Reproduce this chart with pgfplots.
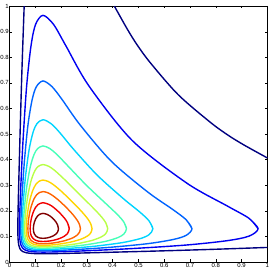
\documentclass[border=0pt]{standalone}
\usepackage{fontspec}
\setmainfont{Liberation Sans}
\usepackage{pgfplots}
\pgfplotsset{compat=1.18}
\definecolor{c1}{rgb}{0.5,0,0}
\definecolor{c2}{rgb}{0.944,0,0}
\definecolor{c3}{rgb}{1,0.389,0}
\definecolor{c4}{rgb}{1,0.833,0}
\definecolor{c5}{rgb}{0.722,1,0.278}
\definecolor{c6}{rgb}{0.278,1,0.722}
\definecolor{c7}{rgb}{0,0.833,1}
\definecolor{c8}{rgb}{0,0.389,1}
\definecolor{c9}{rgb}{0,0,0.944}
\definecolor{c10}{rgb}{0,0,0.5}
\begin{document}
\begin{tikzpicture}
\begin{axis}[
  scale only axis, width=258bp, height=256bp,
  xmin=0, xmax=1.0005, ymin=0, ymax=1.0005,
  xtick={0,0.1,0.2,0.3,0.4,0.5,0.6,0.7,0.8,0.9,1},
  ytick={0,0.1,0.2,0.3,0.4,0.5,0.6,0.7,0.8,0.9,1},
  tick align=inside, major tick length=2.5bp,
  tick style={black, line width=0.4pt},
  axis line style={black, line width=0.5pt},
  every tick label/.append style={font=\fontsize{6}{7}\selectfont, text=black},
  xticklabel style={inner sep=1.5pt},
  yticklabel style={inner sep=0.6pt},
  /pgf/number format/assume math mode=true,
  every axis plot/.append style={line width=1.4pt, smooth, mark=none},
]
\coordinate (sw) at (rel axis cs:0,0);
\coordinate (ne) at (rel axis cs:1,1);
% level 10 (lowest), open pieces
\addplot[c10] coordinates {(0.0569,1)(0.0492,0.78)(0.0433,0.585)(0.038,0.39)(0.0346,0.26)(0.0329,0.182)(0.0323,0.13)(0.0332,0.091)(0.0361,0.065)(0.0405,0.052)(0.0453,0.0453)(0.052,0.0405)(0.065,0.0361)(0.091,0.0332)(0.13,0.0323)(0.182,0.0329)(0.26,0.0346)(0.39,0.038)(0.585,0.0433)(0.78,0.0492)(1,0.0569)};
\addplot[c10] coordinates {(1,0.4067)(0.91,0.4569)(0.85,0.494)(0.78,0.545)(0.654,0.654)(0.545,0.78)(0.494,0.85)(0.4569,0.91)(0.4067,1)};
% level 9
\addplot[c9] coordinates {(0.9640,0.13)(0.9286,0.1708)(0.8454,0.2184)(0.6877,0.3082)(0.4754,0.4754)(0.3082,0.6877)(0.2184,0.8454)(0.1708,0.9286)(0.13,0.9640)(0.1011,0.9286)(0.0835,0.8454)(0.0665,0.6877)(0.0525,0.4754)(0.0444,0.3082)(0.0408,0.2184)(0.0394,0.1708)(0.0388,0.13)(0.0394,0.1011)(0.0408,0.0835)(0.0444,0.0665)(0.0525,0.0525)(0.0665,0.0444)(0.0835,0.0408)(0.1011,0.0394)(0.13,0.0388)(0.1708,0.0394)(0.2184,0.0408)(0.3082,0.0444)(0.4754,0.0525)(0.6877,0.0665)(0.8454,0.0835)(0.9286,0.1011)(0.9640,0.13)(0.9286,0.1708)};
% level 8
\addplot[c8] coordinates {(0.7076,0.13)(0.6851,0.165)(0.6347,0.2041)(0.5357,0.2738)(0.3942,0.3942)(0.2738,0.5357)(0.2041,0.6347)(0.165,0.6851)(0.13,0.7076)(0.1042,0.6851)(0.0879,0.6347)(0.0716,0.5357)(0.0578,0.3942)(0.0496,0.2738)(0.0459,0.2041)(0.0445,0.165)(0.0438,0.13)(0.0445,0.1042)(0.0459,0.0879)(0.0496,0.0716)(0.0578,0.0578)(0.0716,0.0496)(0.0879,0.0459)(0.1042,0.0445)(0.13,0.0438)(0.165,0.0445)(0.2041,0.0459)(0.2738,0.0496)(0.3942,0.0578)(0.5357,0.0716)(0.6347,0.0879)(0.6851,0.1042)(0.7076,0.13)(0.6851,0.165)};
% level 7
\addplot[c7] coordinates {(0.5560,0.13)(0.5413,0.1604)(0.5078,0.1931)(0.4402,0.2488)(0.3398,0.3398)(0.2488,0.4402)(0.1931,0.5078)(0.1604,0.5413)(0.13,0.5560)(0.1068,0.5413)(0.0917,0.5078)(0.0762,0.4402)(0.0627,0.3398)(0.0545,0.2488)(0.0508,0.1931)(0.0494,0.1604)(0.0487,0.13)(0.0494,0.1068)(0.0508,0.0917)(0.0545,0.0762)(0.0627,0.0627)(0.0762,0.0545)(0.0917,0.0508)(0.1068,0.0494)(0.13,0.0487)(0.1604,0.0494)(0.1931,0.0508)(0.2488,0.0545)(0.3398,0.0627)(0.4402,0.0762)(0.5078,0.0917)(0.5413,0.1068)(0.5560,0.13)(0.5413,0.1604)};
% level 6
\addplot[c6] coordinates {(0.4536,0.13)(0.4433,0.1564)(0.4202,0.1838)(0.3727,0.2291)(0.2991,0.2991)(0.2291,0.3727)(0.1838,0.4202)(0.1564,0.4433)(0.13,0.4536)(0.1092,0.4433)(0.0953,0.4202)(0.0807,0.3727)(0.0677,0.2991)(0.0596,0.2291)(0.0559,0.1838)(0.0544,0.1564)(0.0537,0.13)(0.0544,0.1092)(0.0559,0.0953)(0.0596,0.0807)(0.0677,0.0677)(0.0807,0.0596)(0.0953,0.0559)(0.1092,0.0544)(0.13,0.0537)(0.1564,0.0544)(0.1838,0.0559)(0.2291,0.0596)(0.2991,0.0677)(0.3727,0.0807)(0.4202,0.0953)(0.4433,0.1092)(0.4536,0.13)(0.4433,0.1564)};
% level 5
\addplot[c5] coordinates {(0.3808,0.13)(0.3736,0.1529)(0.3571,0.1760)(0.3227,0.2131)(0.2678,0.2678)(0.2131,0.3227)(0.1760,0.3571)(0.1529,0.3736)(0.13,0.3808)(0.1114,0.3736)(0.0987,0.3571)(0.0851,0.3227)(0.0726,0.2678)(0.0647,0.2131)(0.0610,0.1760)(0.0595,0.1529)(0.0589,0.13)(0.0595,0.1114)(0.0610,0.0987)(0.0647,0.0851)(0.0726,0.0726)(0.0851,0.0647)(0.0987,0.0610)(0.1114,0.0595)(0.13,0.0589)(0.1529,0.0595)(0.1760,0.0610)(0.2131,0.0647)(0.2678,0.0726)(0.3227,0.0851)(0.3571,0.0987)(0.3736,0.1114)(0.3808,0.13)(0.3736,0.1529)};
% level 4
\addplot[c4] coordinates {(0.3201,0.13)(0.315,0.1494)(0.3036,0.1684)(0.2794,0.1977)(0.2393,0.2393)(0.1977,0.2794)(0.1684,0.3036)(0.1494,0.315)(0.13,0.3201)(0.1138,0.315)(0.1024,0.3036)(0.0900,0.2794)(0.0783,0.2393)(0.0707,0.1977)(0.0671,0.1684)(0.0657,0.1494)(0.0650,0.13)(0.0657,0.1138)(0.0671,0.1024)(0.0707,0.0900)(0.0783,0.0783)(0.0900,0.0707)(0.1024,0.0671)(0.1138,0.0657)(0.13,0.0650)(0.1494,0.0657)(0.1684,0.0671)(0.1977,0.0707)(0.2393,0.0783)(0.2794,0.0900)(0.3036,0.1024)(0.315,0.1138)(0.3201,0.13)(0.315,0.1494)};
% level 3
\addplot[c3] coordinates {(0.2751,0.13)(0.2715,0.1462)(0.2635,0.1617)(0.2462,0.1850)(0.2167,0.2167)(0.1850,0.2462)(0.1617,0.2635)(0.1462,0.2715)(0.13,0.2751)(0.1161,0.2715)(0.1061,0.2635)(0.0948,0.2462)(0.0840,0.2167)(0.0768,0.1850)(0.0734,0.1617)(0.072,0.1462)(0.0714,0.13)(0.072,0.1161)(0.0734,0.1061)(0.0768,0.0948)(0.0840,0.0840)(0.0948,0.0768)(0.1061,0.0734)(0.1161,0.072)(0.13,0.0714)(0.1462,0.072)(0.1617,0.0734)(0.1850,0.0768)(0.2167,0.0840)(0.2462,0.0948)(0.2635,0.1061)(0.2715,0.1161)(0.2751,0.13)(0.2715,0.1462)};
% level 2
\addplot[c2] coordinates {(0.2318,0.13)(0.2244,0.1543)(0.2132,0.1712)(0.1934,0.1934)(0.1712,0.2132)(0.1543,0.2244)(0.13,0.2318)(0.1105,0.2244)(0.1010,0.2132)(0.0915,0.1934)(0.0850,0.1712)(0.0819,0.1543)(0.0801,0.13)(0.0819,0.1105)(0.0850,0.1010)(0.0915,0.0915)(0.1010,0.0850)(0.1105,0.0819)(0.13,0.0801)(0.1543,0.0819)(0.1712,0.0850)(0.1934,0.0915)(0.2132,0.1010)(0.2244,0.1105)(0.2318,0.13)(0.2244,0.1543)};
% level 1 (highest)
\addplot[c1] coordinates {(0.190,0.13)(0.186,0.146)(0.1802,0.1564)(0.1693,0.1693)(0.1564,0.1802)(0.146,0.186)(0.13,0.190)(0.1162,0.186)(0.1092,0.1802)(0.1019,0.1693)(0.0967,0.1564)(0.0941,0.146)(0.0926,0.13)(0.0941,0.1162)(0.0967,0.1092)(0.1019,0.1019)(0.1092,0.0967)(0.1162,0.0941)(0.13,0.0926)(0.146,0.0941)(0.1564,0.0967)(0.1693,0.1019)(0.1802,0.1092)(0.186,0.1162)(0.190,0.13)(0.186,0.146)};
\end{axis}
\pgfresetboundingbox
\path ([shift={(-9.5bp,-11bp)}]sw) rectangle ([shift={(5.5bp,6bp)}]ne);
\end{tikzpicture}
\end{document}
